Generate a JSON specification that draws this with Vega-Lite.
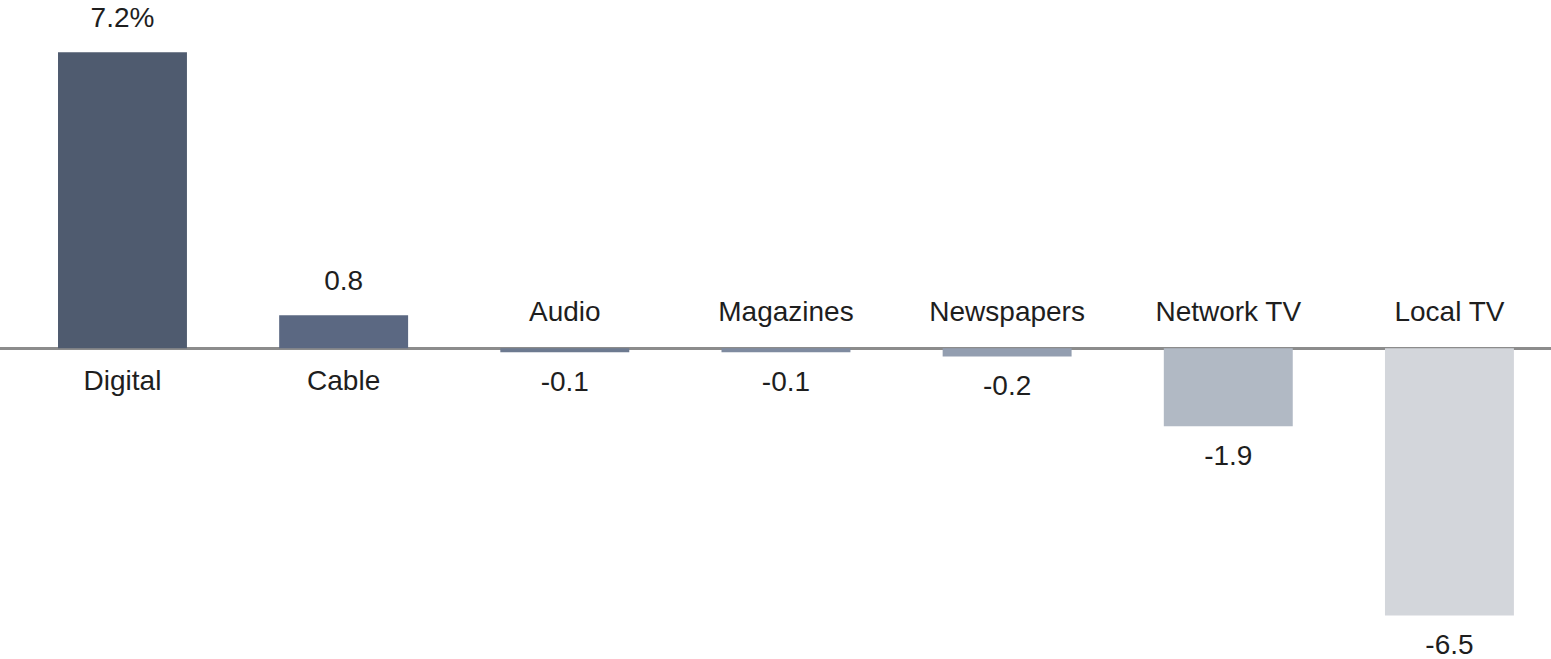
{
  "$schema": "https://vega.github.io/schema/vega-lite/v6.json",
  "width": 1551,
  "height": 659,
  "padding": 0,
  "autosize": "none",
  "background": "white",
  "config": {"view": {"stroke": null}, "text": {"font": "Liberation Sans", "fontSize": 28, "color": "#1e1e1e"}},
  "data": {
    "values": [
      {"category": "Digital", "value": 7.2, "label": "7.2%"},
      {"category": "Cable", "value": 0.8, "label": "0.8"},
      {"category": "Audio", "value": -0.1, "label": "-0.1"},
      {"category": "Magazines", "value": -0.1, "label": "-0.1"},
      {"category": "Newspapers", "value": -0.2, "label": "-0.2"},
      {"category": "Network TV", "value": -1.9, "label": "-1.9"},
      {"category": "Local TV", "value": -6.5, "label": "-6.5"}
    ]
  },
  "encoding": {
    "x": {
      "field": "category", "type": "nominal", "sort": null, "axis": null,
      "scale": {"paddingInner": 0.417, "paddingOuter": 0.215, "align": 0.61}
    }
  },
  "layer": [
    {
      "mark": {"type": "rule", "color": "#8c8c8c", "strokeWidth": 2.5},
      "encoding": {"x": null, "y": {"datum": 0, "type": "quantitative", "scale": {"domain": [-7.56, 8.47], "nice": false, "zero": false}, "axis": null}}
    },
    {
      "mark": {"type": "bar"},
      "encoding": {
        "y": {"field": "value", "type": "quantitative", "scale": {"domain": [-7.56, 8.47], "nice": false, "zero": false}, "axis": null},
        "y2": {"datum": 0},
        "color": {
          "field": "category", "type": "nominal", "legend": null,
          "scale": {
            "domain": ["Digital", "Cable", "Audio", "Magazines", "Newspapers", "Network TV", "Local TV"],
            "range": ["#4f5b6f", "#5b6882", "#6d7a90", "#7f8ba0", "#939eb0", "#b1b9c4", "#d3d6db"]
          }
        }
      }
    },
    {
      "transform": [{"filter": "datum.value > 0"}],
      "mark": {"type": "text", "dy": -33, "baseline": "middle"},
      "encoding": {"y": {"field": "value", "type": "quantitative"}, "text": {"field": "label"}}
    },
    {
      "transform": [{"filter": "datum.value < 0"}],
      "mark": {"type": "text", "dy": 31, "baseline": "middle"},
      "encoding": {"y": {"field": "value", "type": "quantitative"}, "text": {"field": "label"}}
    },
    {
      "transform": [{"filter": "datum.value > 0"}],
      "mark": {"type": "text", "dy": 34, "baseline": "middle"},
      "encoding": {"y": {"datum": 0, "type": "quantitative"}, "text": {"field": "category"}}
    },
    {
      "transform": [{"filter": "datum.value < 0"}],
      "mark": {"type": "text", "dy": -35, "baseline": "middle"},
      "encoding": {"y": {"datum": 0, "type": "quantitative"}, "text": {"field": "category"}}
    }
  ]
}
